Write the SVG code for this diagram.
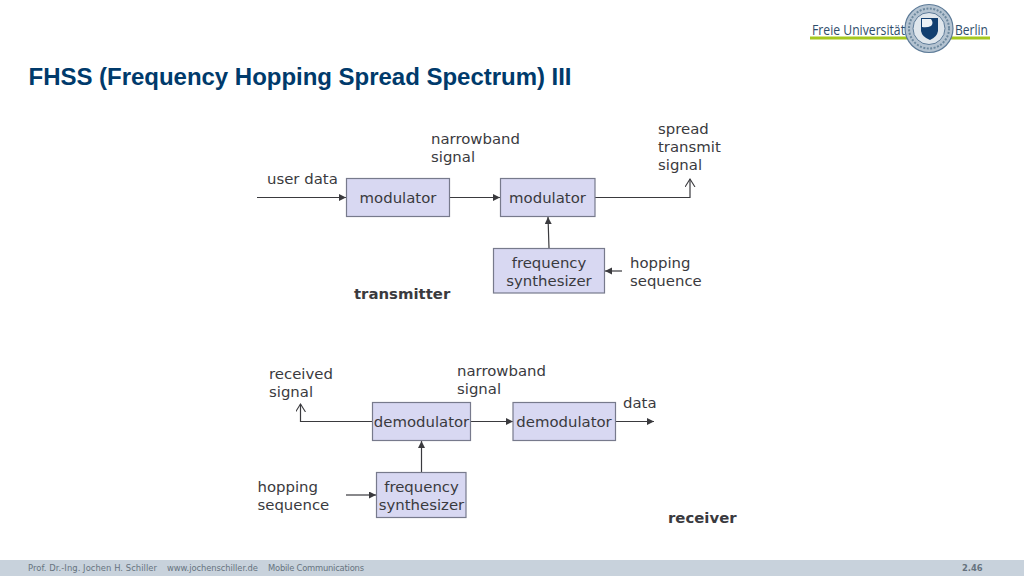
<svg xmlns="http://www.w3.org/2000/svg" width="1024" height="576" viewBox="0 0 1024 576">
<style>
text{font-family:"DejaVu Sans",Verdana,sans-serif;font-size:14.9px;fill:#3a3a3e}
.b{font-weight:bold}
.c{text-anchor:middle}
.box{fill:#d8d8f2;stroke:#777a8c;stroke-width:1.2}
.ln{fill:none;stroke:#3a3a3e;stroke-width:1.2}
.ft{font-size:8.4px;fill:#66727e}
.lg{font-family:"Open Sans","Liberation Sans",sans-serif;font-size:14px;fill:#2f4d6b}
</style>
<defs>
<marker id="a" markerWidth="8" markerHeight="8" refX="7" refY="3.5" orient="auto" markerUnits="userSpaceOnUse"><path d="M0 0L7 3.5L0 7z" fill="#3a3a3e"/></marker>
<marker id="o" markerWidth="10" markerHeight="12" refX="8" refY="5" orient="auto" markerUnits="userSpaceOnUse"><path d="M0 0L8 5L0 10" fill="none" stroke="#3a3a3e" stroke-width="1.1"/></marker>
</defs>
<rect width="1024" height="576" fill="#fff"/>
<text x="28.500" y="85" style="font-family:'Liberation Sans',Arial,sans-serif;font-size:24px;font-weight:bold;fill:#003a6b" textLength="543">FHSS (Frequency Hopping Spread Spectrum) III</text>
<g id="logo">
<rect x="810" y="36.500" width="180" height="3" fill="#a5c81e"/>
<circle cx="929" cy="28.500" r="24" fill="#b4c3d1" stroke="#5d7b98" stroke-width="1.2"/>
<circle cx="929" cy="28.500" r="20" fill="none" stroke="#6d899f" stroke-width="2" stroke-dasharray="2 1.500"/>
<circle cx="929" cy="28.500" r="16" fill="#dfe6ec" stroke="#5d7b98" stroke-width="1"/>
<path d="M921 18h17v13q-1 6-8 9q-8-3-9-9z" fill="#123f70"/>
<path d="M922 19h9q3 4 0 7q-4 2-9 1z" fill="#eef2f5"/>
<text class="lg" x="812" y="34.500" textLength="93" lengthAdjust="spacingAndGlyphs">Freie Universität</text>
<text class="lg" x="955" y="34.500" textLength="33" lengthAdjust="spacingAndGlyphs">Berlin</text>
</g>
<g id="connectors">
<path class="ln" d="M257 197.500H346" marker-end="url(#a)"/>
<path class="ln" d="M450 197.500H500" marker-end="url(#a)"/>
<path class="ln" d="M595 197.500H690V179" marker-end="url(#o)"/>
<path class="ln" d="M549 248L548 217" marker-end="url(#a)"/>
<path class="ln" d="M622 271H605" marker-end="url(#a)"/>
<path class="ln" d="M372 421.500H300.500V404" marker-end="url(#o)"/>
<path class="ln" d="M471 421.500H513" marker-end="url(#a)"/>
<path class="ln" d="M616 421.500H654" marker-end="url(#a)"/>
<path class="ln" d="M421.500 472V441" marker-end="url(#a)"/>
<path class="ln" d="M346 495H376" marker-end="url(#a)"/>
</g>
<g id="modulator1"><rect class="box" x="346.500" y="178.500" width="103" height="38"/><text class="c" x="398" y="203">modulator</text></g>
<g id="modulator2"><rect class="box" x="500.500" y="178.500" width="94.500" height="38"/><text class="c" x="547.500" y="203">modulator</text></g>
<g id="synth1"><rect class="box" x="493.500" y="248.500" width="111" height="44.500"/><text class="c" x="549" y="268">frequency</text><text class="c" x="549" y="286">synthesizer</text></g>
<g id="demodulator1"><rect class="box" x="372.500" y="402.500" width="98" height="38"/><text class="c" x="421.500" y="427">demodulator</text></g>
<g id="demodulator2"><rect class="box" x="513" y="402.500" width="102.500" height="38"/><text class="c" x="564" y="427">demodulator</text></g>
<g id="synth2"><rect class="box" x="376.500" y="472.500" width="89.500" height="45"/><text class="c" x="421.500" y="492">frequency</text><text class="c" x="421.500" y="510">synthesizer</text></g>
<g id="labels">
<text x="431" y="144">narrowband</text><text x="431" y="162">signal</text>
<text x="658" y="134">spread</text><text x="658" y="152">transmit</text><text x="658" y="170">signal</text>
<text x="267" y="184">user data</text>
<text x="630" y="268">hopping</text><text x="630" y="286">sequence</text>
<text class="b" x="354" y="299">transmitter</text>
<text x="269" y="379">received</text><text x="269" y="397">signal</text>
<text x="457" y="376">narrowband</text><text x="457" y="394">signal</text>
<text x="623" y="408">data</text>
<text x="257.500" y="492">hopping</text><text x="257.500" y="510">sequence</text>
<text class="b" x="668" y="523">receiver</text>
</g>
<g id="footer">
<rect y="560" width="1024" height="16" fill="#c8d2dc"/>
<text class="ft" x="28" y="571" textLength="129">Prof. Dr.-Ing. Jochen H. Schiller</text>
<text class="ft" x="167" y="571" textLength="91">www.jochenschiller.de</text>
<text class="ft" x="268" y="571" textLength="96">Mobile Communications</text>
<text class="ft b" x="962" y="571">2.46</text>
</g>
</svg>
